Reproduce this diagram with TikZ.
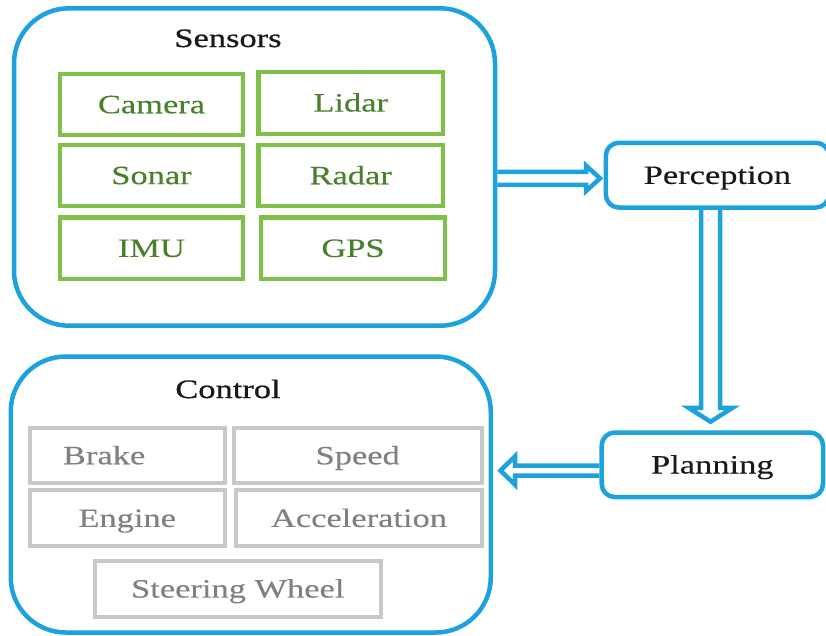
\documentclass[tikz,border=0pt]{standalone}
\usepackage{fontspec}
\setmainfont{Liberation Serif}[FakeStretch=1.3, FakeBold=0.25]
\newfontfamily\headingfont{Liberation Serif}[FakeStretch=1.3, FakeBold=0.8]
\usetikzlibrary{calc}

\definecolor{skyblue}{RGB}{30,162,222}
\definecolor{leafline}{RGB}{126,192,72}
\definecolor{leaftext}{RGB}{72,128,46}
\definecolor{greyline}{RGB}{200,200,200}
\definecolor{greytext}{RGB}{128,128,128}
\definecolor{titleink}{RGB}{25,25,25}

\tikzset{
  every node/.style={font=\fontsize{26.5}{30}\selectfont},
  groupbox/.style={draw=skyblue, line width=4.5pt, rounded corners=55pt, inner sep=0pt},
  stagebox/.style={draw=skyblue, line width=4.5pt, rounded corners=13pt, inner sep=0pt,
    text=titleink, text height=17.5pt, text depth=0pt},
  grouptitle/.style={text=titleink, anchor=base, inner sep=0pt,
    font=\headingfont\fontsize{26.5}{30}\selectfont},
  sensorbox/.style={draw=leafline, line width=4.5pt, inner sep=0pt, text=leaftext,
    text height=17.5pt, text depth=0pt},
  actbox/.style={draw=greyline, line width=4pt, inner sep=0pt, text=greytext,
    text height=17.5pt, text depth=0pt},
  hollow/.style={draw=skyblue, line width=4.5pt, line join=miter, miter limit=10}
}

\begin{document}
\begin{tikzpicture}[x=1pt, y=-1pt]
  \useasboundingbox (0,0) rectangle (826,635);

  % --- sensor group ---
  \node[groupbox, minimum width=481pt, minimum height=317.4pt] (sensors) at (254.5,167) {};
  \node[grouptitle] (sensorsTitle) at (228,47) {Sensors};
  \node[sensorbox, minimum width=183pt, minimum height=61pt]   (camera) at (151.5,104.5) {Camera};
  \node[sensorbox, minimum width=184.5pt, minimum height=62pt] (lidar)  at (350.7,102.8) {Lidar};
  \node[sensorbox, minimum width=183pt, minimum height=61pt]   (sonar)  at (151.5,175.4) {Sonar};
  \node[sensorbox, minimum width=184.5pt, minimum height=61pt] (radar)  at (350.7,175.5) {Radar};
  \node[sensorbox, minimum width=183pt, minimum height=61.5pt] (imu)    at (151.5,248.2) {IMU};
  \node[sensorbox, minimum width=184pt, minimum height=61.5pt] (gps)    at (353,248.2) {GPS};

  % --- control group ---
  \node[groupbox, minimum width=480pt, minimum height=276pt] (control) at (250.75,494.5) {};
  \node[grouptitle] (controlTitle) at (228,398) {Control};
  \node[actbox, minimum width=195pt, minimum height=55pt, text width=128.4pt,
        inner xsep=33.3pt, align=left] (brake) at (127.2,455.5) {Brake};
  \node[actbox, minimum width=248pt, minimum height=55pt]   (speed)  at (357.7,455.6) {Speed};
  \node[actbox, minimum width=195pt, minimum height=55.5pt] (engine) at (127.2,518.2) {Engine};
  \node[actbox, minimum width=245.4pt, minimum height=55.5pt] (accel) at (359,518.2) {Acceleration};
  \node[actbox, minimum width=286.3pt, minimum height=55.7pt] (steer) at (237.8,588.8) {Steering Wheel};

  % --- pipeline stages ---
  \node[stagebox, minimum width=223.2pt, minimum height=64.7pt] (perc) at (717.4,175.15) {Perception};
  \node[stagebox, minimum width=221.3pt, minimum height=64.5pt] (plan) at (712.35,464.75) {Planning};

  % --- hollow block arrows ---
  % sensors -> perception
  \coordinate (a1tip) at ($(perc.west)+(-3.5,3.2)$);
  \coordinate (a1tail) at (sensors.east |- a1tip);
  \draw[hollow] ($(a1tail)+(0,-6.6)$) -- ($(a1tip)+(-14,-6.6)$) -- ($(a1tip)+(-14,-12.7)$)
    -- (a1tip) -- ($(a1tip)+(-14,12.7)$) -- ($(a1tip)+(-14,6.6)$) -- ($(a1tail)+(0,6.6)$);

  % perception -> planning
  \coordinate (a2tail) at ($(perc.south)+(-6.9,0)$);
  \coordinate (a2tip) at (a2tail |- {$(plan.north)+(0,-8.5)$});
  \draw[hollow] ($(a2tail)+(-9.5,0)$) -- ($(a2tip)+(-9.5,-14)$) -- ($(a2tip)+(-22,-14)$)
    -- (a2tip) -- ($(a2tip)+(22,-14)$) -- ($(a2tip)+(9.5,-14)$) -- ($(a2tail)+(9.5,0)$);

  % planning -> control
  \coordinate (a3tail) at ($(plan.west)+(0,5.75)$);
  \coordinate (a3tip) at ($(control.east |- a3tail)+(7.5,0)$);
  \draw[hollow] ($(a3tail)+(0,-5)$) -- ($(a3tip)+(14.5,-5)$) -- ($(a3tip)+(14.5,-14.2)$)
    -- (a3tip) -- ($(a3tip)+(14.5,14.2)$) -- ($(a3tip)+(14.5,5)$) -- ($(a3tail)+(0,5)$);
\end{tikzpicture}
\end{document}
